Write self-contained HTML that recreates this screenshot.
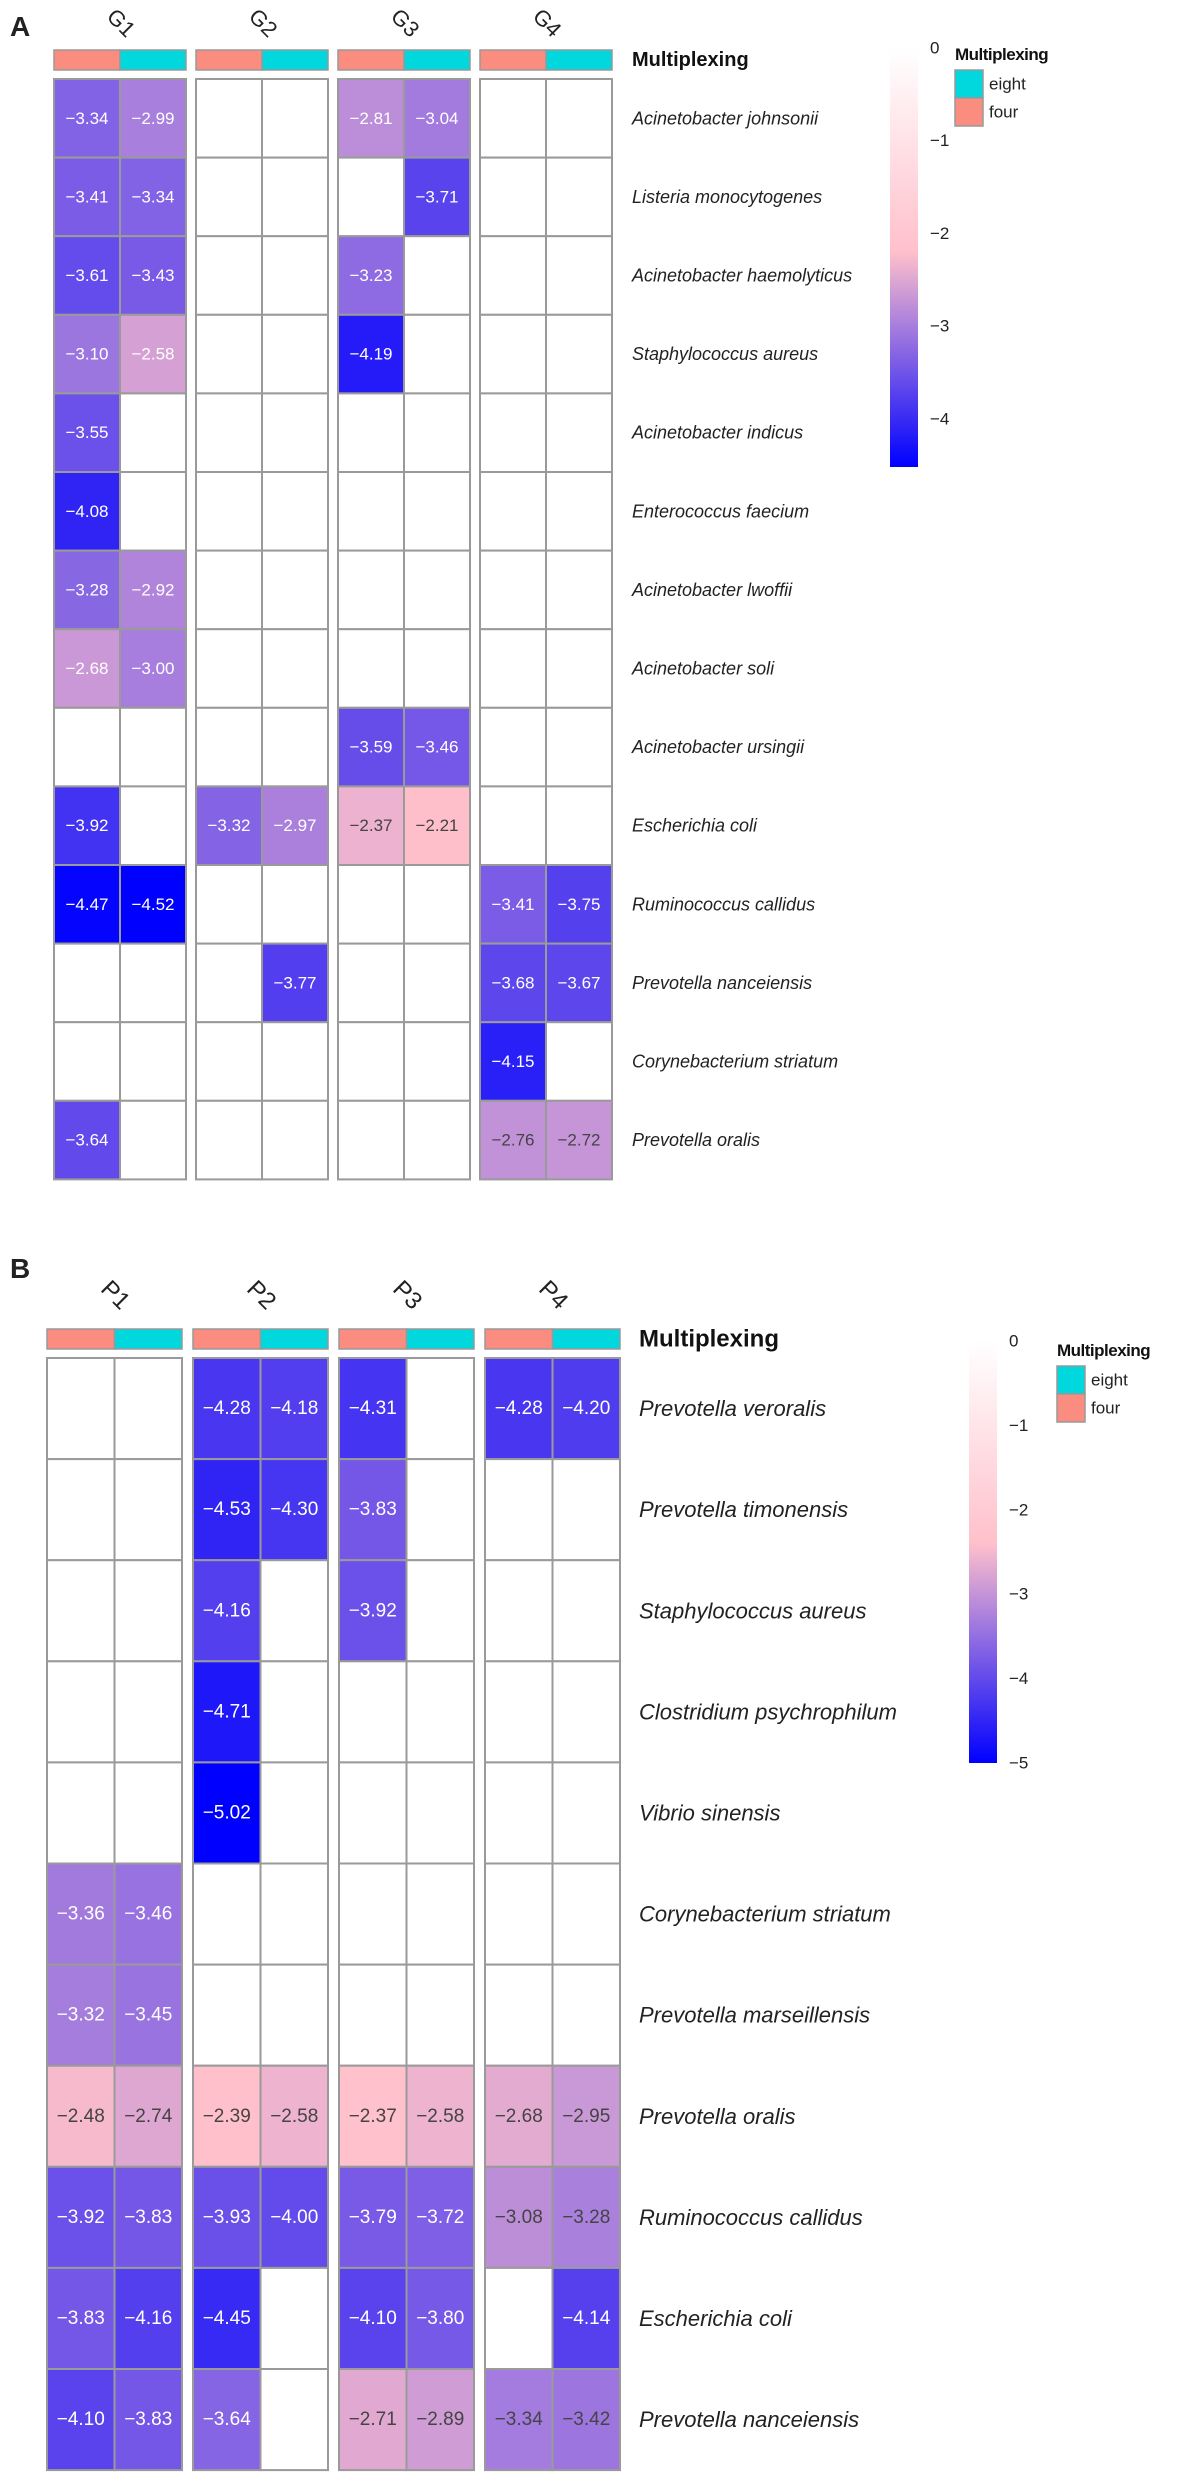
<!DOCTYPE html>
<html><head><meta charset="utf-8"><style>
html,body{margin:0;padding:0;background:#fff}
svg{display:block;font-family:"Liberation Sans",Arial,sans-serif}
</style></head><body>
<svg id="fig" width="1181" height="2480" viewBox="0 0 1181 2480" xmlns="http://www.w3.org/2000/svg"></svg>
<script>
// ---------- Panel A data ----------
const groupsA = ["G1","G2","G3","G4"];
const speciesA = ["Acinetobacter johnsonii","Listeria monocytogenes","Acinetobacter haemolyticus","Staphylococcus aureus","Acinetobacter indicus","Enterococcus faecium","Acinetobacter lwoffii","Acinetobacter soli","Acinetobacter ursingii","Escherichia coli","Ruminococcus callidus","Prevotella nanceiensis","Corynebacterium striatum","Prevotella oralis"];
// columns: G1four,G1eight,G2four,G2eight,G3four,G3eight,G4four,G4eight
const valuesA = [
 [-3.34,-2.99,null,null,-2.81,-3.04,null,null],
 [-3.41,-3.34,null,null,null,-3.71,null,null],
 [-3.61,-3.43,null,null,-3.23,null,null,null],
 [-3.10,-2.58,null,null,-4.19,null,null,null],
 [-3.55,null,null,null,null,null,null,null],
 [-4.08,null,null,null,null,null,null,null],
 [-3.28,-2.92,null,null,null,null,null,null],
 [-2.68,-3.00,null,null,null,null,null,null],
 [null,null,null,null,-3.59,-3.46,null,null],
 [-3.92,null,-3.32,-2.97,-2.37,-2.21,null,null],
 [-4.47,-4.52,null,null,null,null,-3.41,-3.75],
 [null,null,null,-3.77,null,null,-3.68,-3.67],
 [null,null,null,null,null,null,-4.15,null],
 [-3.64,null,null,null,null,null,-2.76,-2.72]
];
const ticksA = [0,-1,-2,-3,-4];
// ---------- Panel B data ----------
const groupsB = ["P1","P2","P3","P4"];
const speciesB = ["Prevotella veroralis","Prevotella timonensis","Staphylococcus aureus","Clostridium psychrophilum","Vibrio sinensis","Corynebacterium striatum","Prevotella marseillensis","Prevotella oralis","Ruminococcus callidus","Escherichia coli","Prevotella nanceiensis"];
const valuesB = [
 [null,null,-4.28,-4.18,-4.31,null,-4.28,-4.20],
 [null,null,-4.53,-4.30,-3.83,null,null,null],
 [null,null,-4.16,null,-3.92,null,null,null],
 [null,null,-4.71,null,null,null,null,null],
 [null,null,-5.02,null,null,null,null,null],
 [-3.36,-3.46,null,null,null,null,null,null],
 [-3.32,-3.45,null,null,null,null,null,null],
 [-2.48,-2.74,-2.39,-2.58,-2.37,-2.58,-2.68,-2.95],
 [-3.92,-3.83,-3.93,-4.00,-3.79,-3.72,-3.08,-3.28],
 [-3.83,-4.16,-4.45,null,-4.10,-3.80,null,-4.14],
 [-4.10,-3.83,-3.64,null,-2.71,-2.89,-3.34,-3.42]
];
const ticksB = [0,-1,-2,-3,-4,-5];
const multiplexLevels = ["four","eight"];

const NS="http://www.w3.org/2000/svg";
const svg=document.getElementById('fig');
function mk(tag,attrs,parent){const e=document.createElementNS(NS,tag);for(const k in attrs)e.setAttribute(k,attrs[k]);(parent||svg).appendChild(e);return e;}
const PINK=[255,192,203],BLUE=[0,0,255];
function colorFor(v,pinkPt,minV){
  if(v>=pinkPt){const t=v/pinkPt;return [255,Math.round(255+(PINK[1]-255)*t),Math.round(255+(PINK[2]-255)*t)];}
  let t=(v-pinkPt)/(minV-pinkPt);t=Math.max(0,Math.min(1,t));
  return PINK.map((c,i)=>Math.round(c+(BLUE[i]-c)*t));
}
function rgb(c){return `rgb(${c[0]},${c[1]},${c[2]})`;}

function drawPanel(cfg){
  const {groups,species,values,ticks,letter,letterY,x0,pitch,gw,labY,annY,top,rh,labelX,labelFs,valFs,grpFs,pinkPt,minV,darkAbove,cb,tag}=cfg;
  const cw=gw/2;
  const t=mk('text',{x:10,y:letterY,'font-size':28,'font-weight':'bold',fill:'#222'});
  
  
  t.textContent=letter;
  groups.forEach((g,gi)=>{
    const gx=x0+gi*pitch;
    const gl=mk('text',{x:gx+gw/2,y:labY,'font-size':grpFs,fill:'#222','text-anchor':'middle','dominant-baseline':'middle',transform:`rotate(45 ${gx+gw/2} ${labY})`});
    
    
    gl.textContent=g;
    multiplexLevels.forEach((m,mi)=>{
      const r=mk('rect',{x:gx+mi*cw,y:annY,width:cw,height:20,fill:mi===0?'#FA8C80':'#00D8DE',stroke:'#999','stroke-width':1.5});
      
      
    });
    species.forEach((s,ri)=>{
      for(let mi=0;mi<2;mi++){
        const v=values[ri][gi*2+mi];
        const cx=gx+mi*cw, cy=top+ri*rh;
        const fill=v===null?'#fff':rgb(colorFor(v,pinkPt,minV));
        const r=mk('rect',{x:cx,y:cy,width:cw,height:rh,fill:fill,stroke:'#9a9a9a','stroke-width':2});
        
        
        if(v!==null){
          const tx=mk('text',{x:cx+cw/2,y:cy+rh/2,'font-size':valFs,'text-anchor':'middle','dominant-baseline':'central',fill:v>darkAbove[gi]?'#444':'#fff'});
          
          
          tx.textContent='\u2212'+Math.abs(v).toFixed(2);
        }
      }
    });
  });
  const mt=mk('text',{x:labelX,y:annY+10,'font-size':labelFs+2,'font-weight':'bold',fill:'#111','dominant-baseline':'central'});
  
  
  mt.textContent='Multiplexing';
  species.forEach((s,ri)=>{
    const l=mk('text',{x:labelX,y:top+ri*rh+rh/2,'font-size':labelFs,'font-style':'italic',fill:'#222','dominant-baseline':'central'});
    
    
    l.textContent=s;
  });
  // colorbar
  const gid='grad'+tag;
  const defs=mk('defs',{});
  const lg=mk('linearGradient',{id:gid,x1:0,y1:0,x2:0,y2:1},defs);
  const span=cb.minV;
  mk('stop',{offset:0,'stop-color':'#fff'},lg);
  mk('stop',{offset:pinkPt/span,'stop-color':rgb(PINK)},lg);
  mk('stop',{offset:1,'stop-color':'#0000ff'},lg);
  const bar=mk('rect',{x:cb.x,y:cb.y0,width:28,height:cb.y1-cb.y0,fill:`url(#${gid})`});
  
  
  ticks.forEach(tv=>{
    const y=cb.y0+(tv/span)*(cb.y1-cb.y0);
    const tl=mk('text',{x:cb.x+40,y:y,'font-size':cb.fs,fill:'#222','dominant-baseline':'central'});
    
    
    tl.textContent=tv===0?'0':'\u2212'+Math.abs(tv);
  });
  const lt=mk('text',{x:cb.lx,y:cb.ly,'font-size':cb.fs,'font-weight':'bold',fill:'#111','letter-spacing':-0.5});
  
  
  lt.textContent='Multiplexing';
  [['eight','#00D8DE'],['four','#FA8C80']].forEach((e,i)=>{
    const r=mk('rect',{x:cb.lx,y:cb.ly+10+i*28,width:28,height:28,fill:e[1],stroke:'#999','stroke-width':1.5});
    
    
    const tx=mk('text',{x:cb.lx+34,y:cb.ly+24+i*28,'font-size':cb.fs,fill:'#222','dominant-baseline':'central'});
    
    
    tx.textContent=e[0];
  });
}
drawPanel({groups:groupsA,species:speciesA,values:valuesA,ticks:ticksA,letter:'A',letterY:36,tag:'a',
  x0:54,pitch:142,gw:132,labY:24,annY:50,top:79,rh:78.6,labelX:632,labelFs:18,valFs:17,grpFs:22,
  pinkPt:-2.2,minV:-4.52,darkAbove:[-2.5,-2.5,-2.5,-3.0],
  cb:{x:890,y0:48,y1:467,minV:-4.52,fs:17,lx:955,ly:60}});
drawPanel({groups:groupsB,species:speciesB,values:valuesB,ticks:ticksB,letter:'B',letterY:1278,tag:'b',
  x0:47,pitch:146,gw:135,labY:1296,annY:1329,top:1358,rh:101.1,labelX:639,labelFs:22,valFs:19,grpFs:24,
  pinkPt:-2.4,minV:-5.02,darkAbove:[-2.8,-2.8,-3.0,-3.5],
  cb:{x:969,y0:1341,y1:1763,minV:-5,fs:17,lx:1057,ly:1356}});
</script>
</body></html>
